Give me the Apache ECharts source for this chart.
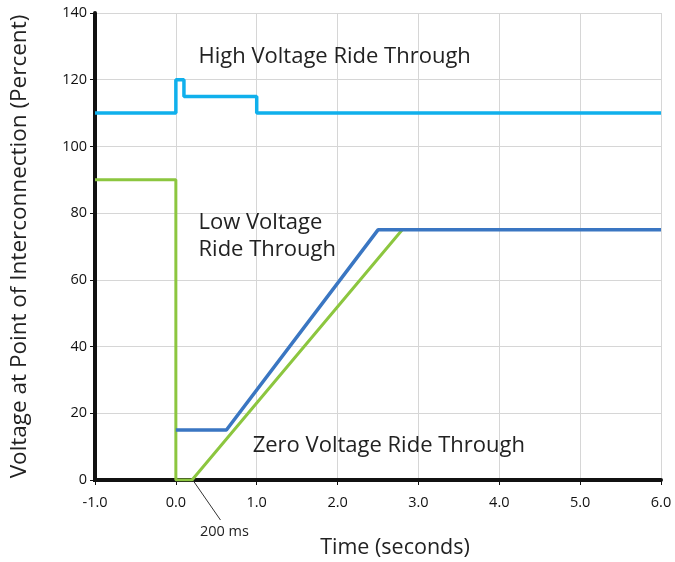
<!DOCTYPE html>
<html><head><meta charset="utf-8">
<script src="https://cdn.jsdelivr.net/npm/echarts@6/dist/echarts.min.js"></script>
<style>html,body{margin:0;padding:0;background:#fff}#c{width:675px;height:562px}</style>
</head><body><div id="c"></div>
<script>
const xTicks = [-1, 0, 1, 2, 3, 4, 5, 6];
const yTicks = [0, 20, 40, 60, 80, 100, 120, 140];
const hvrtX = [-1, 0, 0, 0.1, 0.1, 1, 1, 6];
const hvrtY = [110, 110, 120, 120, 115, 115, 110, 110];
const lvrtX = [0, 0.625, 2.5, 6];
const lvrtY = [15, 15, 75, 75];
const zvrtX = [-1, 0, 0, 0.2, 2.8];
const zvrtY = [90, 90, 0, 0, 75];
const labelHigh = 'High Voltage Ride Through';
const labelLow = ['Low Voltage', 'Ride Through'];
const labelZero = 'Zero Voltage Ride Through';
const label200 = '200 ms';

const FONT = 'Open Sans';
const zip = (xs, ys) => xs.map((x, i) => [x, ys[i]]);

const chart = echarts.init(document.getElementById('c'));
chart.setOption({
  animation: false,
  textStyle: { fontFamily: FONT },
  grid: { left: 95, right: 14, top: 13, bottom: 82, outerBoundsMode: 'none', containLabel: false },
  xAxis: {
    type: 'value', min: -1, max: 6, interval: 1,
    name: 'Time (seconds)', nameLocation: 'middle', nameGap: 57,
    nameTextStyle: { fontSize: 21.5, color: '#222', fontFamily: FONT, padding: [0, 0, 0, 34] },
    axisLine: { onZero: false, lineStyle: { color: '#111', width: 4 } },
    axisTick: { show: true, length: 5, lineStyle: { color: '#111', width: 1 } },
    axisLabel: { fontSize: 14.5, color: '#111', margin: 15, formatter: v => v.toFixed(1), fontFamily: FONT },
    splitLine: { show: true, showMinLine: false, lineStyle: { color: '#d6d6d6', width: 1 } }
  },
  yAxis: {
    type: 'value', min: 0, max: 140, interval: 20,
    name: 'Voltage at Point of Interconnection (Percent)', nameLocation: 'middle', nameGap: 64,
    nameTextStyle: { fontSize: 22.5, color: '#222', fontFamily: FONT },
    axisLine: { show: true, onZero: false, lineStyle: { color: '#111', width: 4 } },
    axisTick: { show: true, length: 5, lineStyle: { color: '#111', width: 1 } },
    axisLabel: { fontSize: 14.5, color: '#111', margin: 8, fontFamily: FONT },
    splitLine: { show: true, showMinLine: false, lineStyle: { color: '#d6d6d6', width: 1 } }
  },
  series: [
    { type: 'line', data: zip(hvrtX, hvrtY), symbol: 'none', lineStyle: { color: '#10b0ec', width: 3.5 }, z: 3 },
    { type: 'line', data: zip(zvrtX, zvrtY), symbol: 'none', lineStyle: { color: '#8cc63f', width: 3 }, z: 2 },
    { type: 'line', data: zip(lvrtX, lvrtY), symbol: 'none', lineStyle: { color: '#3a76c2', width: 3.5 }, z: 4 }
  ]
});

const p = (x, y) => chart.convertToPixel({ gridIndex: 0 }, [x, y]);
const a = p(0.28, 127), b = p(0.28, 77), b2 = p(0.28, 68.9), c = p(0.95, 10.2), d0 = p(0.23, 0);
const o = p(-1, 0), xe = p(6, 0), yt = p(-1, 140);
const txt = (pt, s, size) => ({ type: 'text', x: pt[0], y: pt[1], style: { text: s, fontSize: size, fontFamily: FONT, fill: '#222', textVerticalAlign: 'middle' }, z: 10 });
chart.setOption({
  graphic: [
    { type: 'line', shape: { x1: o[0], y1: yt[1], x2: o[0], y2: o[1] + 2 }, style: { stroke: '#111', lineWidth: 4 }, z: 1 },
    { type: 'line', shape: { x1: o[0] - 2, y1: o[1], x2: xe[0], y2: o[1] }, style: { stroke: '#111', lineWidth: 4 }, z: 1 },
    txt(a, labelHigh, 22),
    txt(b, labelLow[0], 22),
    txt(b2, labelLow[1], 22),
    txt(c, labelZero, 22),
    { type: 'line', shape: { x1: d0[0] - 1, y1: d0[1] + 1, x2: d0[0] + 26, y2: d0[1] + 40 }, style: { stroke: '#333', lineWidth: 1 }, z: 10 },
    { type: 'text', x: d0[0] + 30, y: d0[1] + 52, style: { text: label200, fontSize: 14.5, fontFamily: FONT, fill: '#222', textAlign: 'center', textVerticalAlign: 'middle' }, z: 10 }
  ]
});
</script></body></html>
